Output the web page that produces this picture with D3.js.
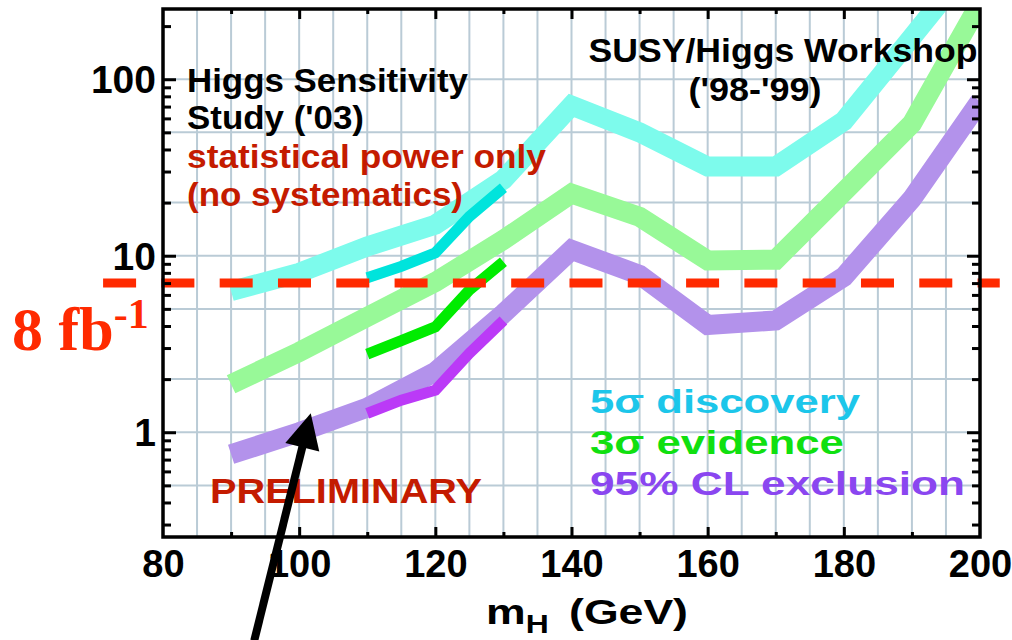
<!DOCTYPE html>
<html><head><meta charset="utf-8">
<script src="https://cdn.jsdelivr.net/npm/d3@7"></script>
<style>body{margin:0;background:#fff}</style>
</head><body>
<svg id="c" width="1012" height="640"></svg>
<script>
// ---- data ----
const massPoints   = [90, 100, 110, 120, 130, 140, 150, 160, 170, 180, 190, 200];
const discovery5   = [6.3, 8.0, 11.3, 15.0, 27.0, 71.0, 50.0, 32.0, 32.0, 58.0, 173.0, 520.0];
const evidence3    = [1.87, 2.85, 4.5, 7.1, 12.3, 22.5, 16.6, 9.4, 9.5, 23.0, 56.0, 270.0];
const exclusion95  = [0.75, 1.0, 1.38, 2.2, 4.7, 10.8, 7.8, 4.05, 4.3, 7.6, 21.0, 75.0];

const massLow        = [110, 115, 120, 125, 130];
const discovery5New  = [7.5, 8.7, 10.4, 16.7, 24.3];
const evidence3New   = [2.77, 3.3, 3.95, 6.4, 9.25];
const exclusion95New = [1.28, 1.52, 1.73, 2.8, 4.3];

const xTickLabels = [80, 100, 120, 140, 160, 180, 200];
const xMajorTicks = [100, 120, 140, 160, 180];
const xMinorTicks = [90, 110, 130, 150, 170, 190];
const xGrid = [85, 90, 95, 100, 105, 110, 115, 120, 125, 130, 135, 140, 145, 150, 155, 160, 165, 170, 175, 180, 185, 190, 195];
const yTickLabels = [1, 10, 100];
const yMinorTicks = [0.3, 0.4, 0.5, 0.6, 0.7, 0.8, 0.9, 2, 3, 4, 5, 6, 7, 8, 9, 20, 30, 40, 50, 60, 70, 80, 90, 200];
const yGrid = [0.5, 1, 2, 5, 10, 20, 50, 100];
const lumiValue = 7.0;
const lumiSpan = [71.2, 202.9];
const arrowTail = [93.4, 0.066];
const arrowTip  = [101.7, 1.28];

// ---- layout ----
const L = 163, R = 980, T = 9, B = 537;
const x = d3.scaleLinear().domain([80, 200]).range([L, R]);
const y = d3.scaleLog().domain([0.255, 250]).range([B, T]);
const svg = d3.select("#c");
const SANS = "'Liberation Sans', Arial, Helvetica, sans-serif";
const SERIF = "'Liberation Serif', 'Times New Roman', serif";

svg.append("defs").append("clipPath").attr("id", "plot")
  .append("rect").attr("x", L).attr("y", T).attr("width", R - L).attr("height", B - T);

// grid
const grid = svg.append("g").attr("stroke", "#bacbd6").attr("stroke-width", 2);
grid.selectAll(".gx").data(xGrid).join("line")
  .attr("x1", d => x(d)).attr("x2", d => x(d)).attr("y1", T).attr("y2", B);
grid.selectAll(".gy").data(yGrid).join("line")
  .attr("x1", L).attr("x2", R).attr("y1", d => y(d)).attr("y2", d => y(d));

// curves
const line = d3.line().x(d => x(d[0])).y(d => y(d[1]));
const curves = svg.append("g").attr("clip-path", "url(#plot)").attr("fill", "none")
  .attr("stroke-linejoin", "miter").attr("stroke-miterlimit", 10);
const bands = [
  {m: massPoints, v: discovery5, c: "#7dfbec", w: 20},
  {m: massPoints, v: evidence3, c: "#98f998", w: 20},
  {m: massPoints, v: exclusion95, c: "#b392eb", w: 20},
  {m: massLow, v: discovery5New, c: "#00e4dc", w: 11},
  {m: massLow, v: evidence3New, c: "#00ec00", w: 11},
  {m: massLow, v: exclusion95New, c: "#bb3af7", w: 11}
];
bands.forEach(b => {
  curves.append("path").datum(b.m.map((m, i) => [m, b.v[i]]))
    .attr("d", line).attr("stroke", b.c).attr("stroke-width", b.w);
});

// texts
function txt(s, px, py, color, size, width, anchor) {
  return svg.append("text").attr("x", px).attr("y", py).attr("fill", color)
    .attr("font-family", SANS).attr("font-weight", "bold").attr("font-size", size)
    .attr("text-anchor", anchor || "start")
    .attr("textLength", width).attr("lengthAdjust", "spacingAndGlyphs").text(s);
}
txt("Higgs Sensitivity", 187, 92, "#000", 33, 281);
txt("Study ('03)", 187, 129, "#000", 33, 177);
txt("statistical power only", 187, 168, "#c41b00", 33, 359);
txt("(no systematics)", 187, 206, "#c41b00", 33, 276);
txt("SUSY/Higgs Workshop", 783, 62, "#000", 34, 389, "middle");
txt("('98-'99)", 755, 101, "#000", 34, 133, "middle");
txt("5σ discovery", 590, 413, "#1cc6ea", 34, 270);
txt("3σ evidence", 590, 454, "#10e010", 34, 254);
txt("95% CL exclusion", 590, 495, "#8a46f0", 34, 375);
txt("PRELIMINARY", 210, 503, "#c41b00", 35, 272);

// luminosity line
svg.append("line")
  .attr("x1", x(lumiSpan[0])).attr("x2", x(lumiSpan[1]))
  .attr("y1", y(lumiValue)).attr("y2", y(lumiValue))
  .attr("stroke", "#ff2a00").attr("stroke-width", 9).attr("stroke-dasharray", "33,25.3");
const lum = svg.append("text").attr("x", 12).attr("y", 350).attr("fill", "#ff2a00")
  .attr("font-family", SERIF).attr("font-weight", "bold").attr("font-size", 62);
lum.append("tspan").text("8 fb");
lum.append("tspan").attr("font-size", 42).attr("dy", -22).text("-1");

// frame
svg.append("rect").attr("x", L).attr("y", T).attr("width", R - L).attr("height", B - T)
  .attr("fill", "none").attr("stroke", "#000").attr("stroke-width", 3.5);

function styleAxis(g) {
  g.select(".domain").remove();
  g.selectAll(".tick line").attr("stroke", "#000").attr("stroke-width", 3);
}
// ticks
svg.append("g").attr("transform", `translate(0,${B})`)
  .call(d3.axisBottom(x).tickValues(xMajorTicks).tickSize(-10).tickFormat("")).call(styleAxis);
svg.append("g").attr("transform", `translate(0,${B})`)
  .call(d3.axisBottom(x).tickValues(xMinorTicks).tickSize(-5).tickFormat("")).call(styleAxis);
svg.append("g").attr("transform", `translate(0,${T})`)
  .call(d3.axisTop(x).tickValues(xMajorTicks).tickSize(-10).tickFormat("")).call(styleAxis);
svg.append("g").attr("transform", `translate(0,${T})`)
  .call(d3.axisTop(x).tickValues(xMinorTicks).tickSize(-5).tickFormat("")).call(styleAxis);
svg.append("g").attr("transform", `translate(${L},0)`)
  .call(d3.axisLeft(y).tickValues(yTickLabels).tickSize(-13).tickFormat("")).call(styleAxis);
svg.append("g").attr("transform", `translate(${L},0)`)
  .call(d3.axisLeft(y).tickValues(yMinorTicks).tickSize(-8).tickFormat("")).call(styleAxis);
svg.append("g").attr("transform", `translate(${R},0)`)
  .call(d3.axisRight(y).tickValues(yTickLabels).tickSize(-13).tickFormat("")).call(styleAxis);
svg.append("g").attr("transform", `translate(${R},0)`)
  .call(d3.axisRight(y).tickValues(yMinorTicks).tickSize(-8).tickFormat("")).call(styleAxis);

// tick labels
const xl = svg.append("g").attr("transform", `translate(0,${B})`)
  .call(d3.axisBottom(x).tickValues(xTickLabels).tickSize(0).tickPadding(13).tickFormat(d3.format("d")));
xl.select(".domain").remove();
xl.selectAll("text").attr("font-family", SANS).attr("font-weight", "bold").attr("font-size", 38).attr("fill", "#000");
const yl = svg.append("g").attr("transform", `translate(${L},0)`)
  .call(d3.axisLeft(y).tickValues(yTickLabels).tickSize(0).tickPadding(7).tickFormat(d3.format("d")));
yl.select(".domain").remove();
yl.selectAll("text").attr("font-family", SANS).attr("font-weight", "bold").attr("font-size", 39)
  .attr("fill", "#000").attr("dy", "0.35em");

// axis title
const xt = svg.append("text").attr("x", 486).attr("y", 624).attr("fill", "#000")
  .attr("font-family", SANS).attr("font-weight", "bold").attr("font-size", 35)
  .attr("textLength", 202).attr("lengthAdjust", "spacingAndGlyphs");
xt.append("tspan").text("m");
xt.append("tspan").attr("font-size", 25).attr("dy", 9).text("H");
xt.append("tspan").attr("dy", -9).attr("dx", 16).text("(GeV)");

// arrow
const t0 = [x(arrowTail[0]), y(arrowTail[1])];
const t1 = [x(arrowTip[0]), y(arrowTip[1])];
const dx = t1[0] - t0[0], dy = t1[1] - t0[1], len = Math.hypot(dx, dy);
const ux = dx / len, uy = dy / len, hl = 35, hw = 17.5;
const bx = t1[0] - ux * hl, by = t1[1] - uy * hl;
svg.append("line").attr("x1", t0[0]).attr("y1", t0[1]).attr("x2", bx + ux * 2).attr("y2", by + uy * 2)
  .attr("stroke", "#000").attr("stroke-width", 8);
svg.append("path").attr("fill", "#000")
  .attr("d", `M${t1[0]},${t1[1]}L${bx - uy * hw},${by + ux * hw}L${bx + uy * hw},${by - ux * hw}Z`);
</script>
</body></html>
